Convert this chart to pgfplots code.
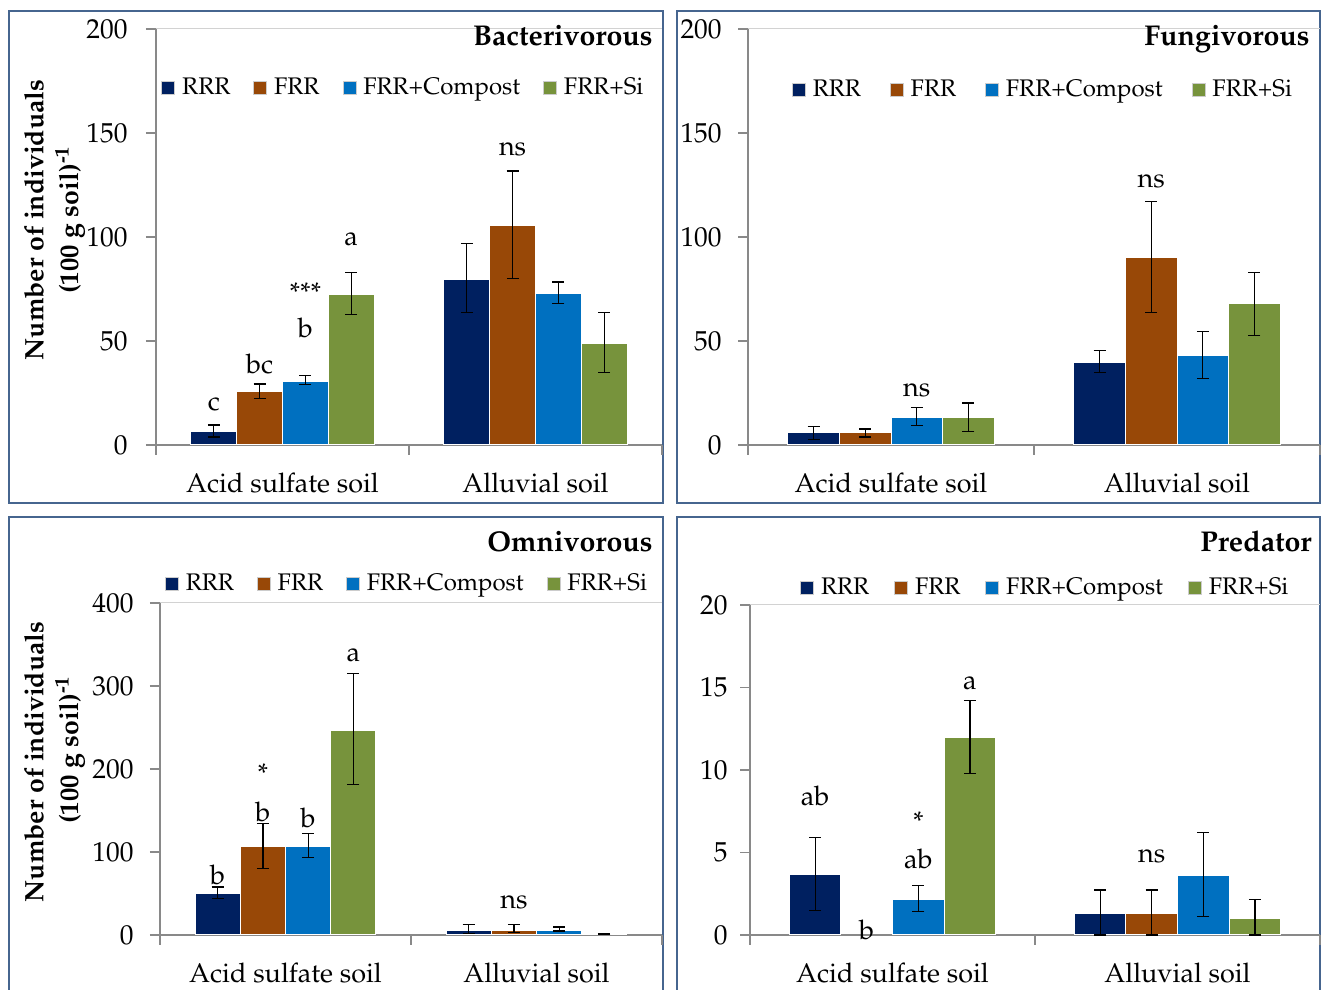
\documentclass[border=0pt]{standalone}
\usepackage[T1]{fontenc}
\usepackage{mathpazo}
\usepackage{pgfplots}
\pgfplotsset{compat=1.18}
\definecolor{cRRR}{HTML}{002060}
\definecolor{cFRR}{HTML}{984807}
\definecolor{cCOM}{HTML}{0070C0}
\definecolor{cSI}{HTML}{77933C}
\definecolor{frame}{HTML}{46658F}
\definecolor{axgray}{HTML}{898989}
\newcommand{\fsz}[1]{\fontsize{#1}{#1}\selectfont}
\tikzset{lbl/.style={font=\fsz{13.5}, inner sep=0pt, anchor=center}}
\pgfplotsset{
 panel/.style={
   scale only axis, clip=false,
   axis x line=bottom, axis y line=left,
   axis line style={-, draw=axgray, line width=0.7pt},
   xmin=-0.5, xmax=1.5, ymin=0,
   xtick={0,1}, xticklabels={Acid sulfate soil, Alluvial soil},
   major x tick style={draw=none},
   minor xtick={-0.5,0.5,1.5},
   minor tick length=5pt, major tick length=5pt,
   tick align=outside,
   tick style={draw=axgray, line width=0.7pt},
   xticklabel style={font=\fsz{13.5}, anchor=base, inner sep=0pt, yshift=-19pt},
   yticklabel style={font=\fsz{13.7}, anchor=east, inner sep=0pt},
   ybar,
   every axis plot/.append style={draw=white, line width=0.5pt,
     error bars/.cd, y dir=both, y explicit,
     error bar style={draw=black, line width=0.6pt},
     error mark options={rotate=90, mark size=3pt, draw=black, line width=0.6pt},
     /pgfplots/.cd},
   legend style={draw=none, fill=none, font=\fsz{12}, legend columns=4,
     anchor=center, nodes={inner sep=1.5pt},
     /tikz/every odd column/.append style={column sep=2pt}},
   legend image code/.code={\draw[##1, draw=gray!40, line width=0.4pt] (0pt,-3.3pt) rectangle (6.5pt,3.3pt);},
 },
}
\begin{document}
\begin{tikzpicture}
\useasboundingbox (0,0) rectangle (661.5pt,495pt);
% frames
\draw[frame, line width=1pt] (4.5pt,243.5pt) rectangle (331.5pt,489.5pt);
\draw[frame, line width=1pt] (338.5pt,243.5pt) rectangle (660pt,489.5pt);
\draw[frame, line width=1pt] (4.5pt,-3pt) rectangle (331.5pt,236.5pt);
\draw[frame, line width=1pt] (338.5pt,-3pt) rectangle (660pt,236.5pt);

% ---------------- Panel 1: Bacterivorous
\begin{axis}[panel, at={(78pt,272.5pt)}, anchor=south west,
  width=253pt, height=208pt, ymax=200, ytick={0,50,100,150,200},
  bar width=22.9pt, yticklabel style={xshift=-9pt},
  legend style={at={(0.49,0.858)}, /tikz/every even column/.append style={column sep=10pt}}]
\addplot[fill=cRRR, bar shift=-34.35pt] table[x=x,y=y,y error plus=ep,y error minus=em]{
x y ep em
0 6.4 3.2 2.6
1 79.5 17.5 15.9
};
\addplot[fill=cFRR, bar shift=-11.45pt] table[x=x,y=y,y error plus=ep,y error minus=em]{
x y ep em
0 25.6 3.7 3.2
1 105.5 26.2 25.6
};
\addplot[fill=cCOM, bar shift=11.45pt] table[x=x,y=y,y error plus=ep,y error minus=em]{
x y ep em
0 30.6 2.7 1.6
1 72.8 5.6 4.6
};
\addplot[fill=cSI, bar shift=34.35pt] table[x=x,y=y,y error plus=ep,y error minus=em]{
x y ep em
0 72.3 10.6 9.7
1 48.8 14.9 13.9
};
\legend{RRR,FRR,FRR+Compost,FRR+Si}
\draw[gray!35, line width=0.5pt] (rel axis cs:0,1) -- (rel axis cs:1,1);
\node[lbl] at (axis cs:0,19.7) [xshift=-34.35pt] {c};
\node[lbl] at (axis cs:0,38.9) [xshift=-11.45pt] {bc};
\node[lbl] at (axis cs:0,56.5) [xshift=11.45pt] {b};
\node[lbl] at (axis cs:0,73.6) [xshift=11.45pt] {***};
\node[lbl] at (axis cs:0,98.9) [xshift=34.35pt] {a};
\node[lbl] at (axis cs:1,142) [xshift=-11.45pt] {ns};
\end{axis}

% ---------------- Panel 2: Fungivorous
\begin{axis}[panel, at={(374pt,272.5pt)}, anchor=south west,
  width=286pt, height=208pt, ymax=200, ytick={0,50,100,150,200},
  bar width=25.8pt, yticklabel style={xshift=-8pt},
  legend style={at={(0.5166,0.853)}, /tikz/every even column/.append style={column sep=13pt}}]
\addplot[fill=cRRR, bar shift=-38.7pt] table[x=x,y=y,y error plus=ep,y error minus=em]{
x y ep em
0 5.9 3.1 3.2
1 39.6 6.0 4.9
};
\addplot[fill=cFRR, bar shift=-12.9pt] table[x=x,y=y,y error plus=ep,y error minus=em]{
x y ep em
0 5.9 1.8 2.1
1 90.3 26.9 26.7
};
\addplot[fill=cCOM, bar shift=12.9pt] table[x=x,y=y,y error plus=ep,y error minus=em]{
x y ep em
0 13.1 4.8 3.7
1 43.1 11.5 11.1
};
\addplot[fill=cSI, bar shift=38.7pt] table[x=x,y=y,y error plus=ep,y error minus=em]{
x y ep em
0 13.1 7.1 6.5
1 67.9 14.9 15.1
};
\legend{RRR,FRR,FRR+Compost,FRR+Si}
\draw[gray!35, line width=0.5pt] (rel axis cs:0,1) -- (rel axis cs:1,1);
\node[lbl] at (axis cs:0,26.1) [xshift=12.9pt] {ns};
\node[lbl] at (axis cs:1,127) [xshift=-12.9pt] {ns};
\end{axis}

% ---------------- Panel 3: Omnivorous
\begin{axis}[panel, at={(80pt,27.5pt)}, anchor=south west,
  width=251pt, height=166pt, ymax=400, ytick={0,100,200,300,400},
  bar width=22.6pt, yticklabel style={xshift=-8pt},
  legend style={at={(0.493,1.057)}, /tikz/every even column/.append style={column sep=10pt}}]
\addplot[fill=cRRR, bar shift=-33.9pt] table[x=x,y=y,y error plus=ep,y error minus=em]{
x y ep em
0 50.2 7.6 6.5
1 6 6.8 4.4
};
\addplot[fill=cFRR, bar shift=-11.3pt] table[x=x,y=y,y error plus=ep,y error minus=em]{
x y ep em
0 106.3 28.1 26.1
1 6 6.8 3.2
};
\addplot[fill=cCOM, bar shift=11.3pt] table[x=x,y=y,y error plus=ep,y error minus=em]{
x y ep em
0 106.3 15.7 13.2
1 6 3.6 1.2
};
\addplot[fill=cSI, bar shift=33.9pt] table[x=x,y=y,y error plus=ep,y error minus=em]{
x y ep em
0 246.7 68.6 65.7
1 1.2 0.6 0.6
};
\legend{RRR,FRR,FRR+Compost,FRR+Si}
\draw[gray!35, line width=0.5pt] (rel axis cs:0,1) -- (rel axis cs:1,1);
\node[lbl] at (axis cs:0,73) [xshift=-33.9pt] {b};
\node[lbl] at (axis cs:0,149) [xshift=-11.3pt] {b};
\node[lbl] at (axis cs:0,194.5) [xshift=-11.3pt] {*};
\node[lbl] at (axis cs:0,141) [xshift=11.3pt] {b};
\node[lbl] at (axis cs:0,337) [xshift=33.9pt] {a};
\node[lbl] at (axis cs:1,38.9) [xshift=-11.3pt] {ns};
\end{axis}

% ---------------- Panel 4: Predator
\begin{axis}[panel, at={(375pt,27.5pt)}, anchor=south west,
  width=285pt, height=165pt, ymax=20, ytick={0,5,10,15,20},
  bar width=25.8pt, yticklabel style={xshift=-6pt},
  legend style={at={(0.519,1.052)}, /tikz/every even column/.append style={column sep=11pt}}]
\addplot[fill=cRRR, bar shift=-38.7pt] table[x=x,y=y,y error plus=ep,y error minus=em]{
x y ep em
0 3.66 2.24 2.16
1 1.31 1.42 1.31
};
\addplot[fill=cFRR, bar shift=-12.9pt] table[x=x,y=y,y error plus=ep,y error minus=em]{
x y ep em
1 1.31 1.42 1.31
};
\addplot[fill=cCOM, bar shift=12.9pt] table[x=x,y=y,y error plus=ep,y error minus=em]{
x y ep em
0 2.18 0.82 0.77
1 3.6 2.6 2.47
};
\addplot[fill=cSI, bar shift=38.7pt] table[x=x,y=y,y error plus=ep,y error minus=em]{
x y ep em
0 11.98 2.22 2.18
1 1.03 1.13 1.03
};
\legend{RRR,FRR,FRR+Compost,FRR+Si}
\draw[gray!35, line width=0.5pt] (rel axis cs:0,1) -- (rel axis cs:1,1);
\node[lbl] at (axis cs:0,8.42) [xshift=-38.7pt] {ab};
\node[lbl] at (axis cs:0,0.3) [xshift=-12.9pt] {b};
\node[lbl] at (axis cs:0,6.87) [xshift=12.9pt] {*};
\node[lbl] at (axis cs:0,4.6) [xshift=12.9pt] {ab};
\node[lbl] at (axis cs:0,15.3) [xshift=38.7pt] {a};
\node[lbl] at (axis cs:1,4.8) [xshift=-12.9pt] {ns};
\end{axis}

% titles
\node[anchor=base east, inner sep=0pt, font=\fsz{14.3}\bfseries] at (326.5pt,472pt) {Bacterivorous};
\node[anchor=base east, inner sep=0pt, font=\fsz{14.3}\bfseries] at (655pt,472pt) {Fungivorous};
\node[anchor=base east, inner sep=0pt, font=\fsz{14.3}\bfseries] at (326.5pt,219pt) {Omnivorous};
\node[anchor=base east, inner sep=0pt, font=\fsz{14.3}\bfseries] at (656pt,219pt) {Predator};
% y labels
\node[rotate=90, inner sep=0pt, font=\fsz{13.3}\bfseries] at (17pt,385pt) {Number of individuals};
\node[rotate=90, inner sep=0pt, font=\fsz{13.3}\bfseries] at (35pt,385pt) {(100 g soil)\textsuperscript{-1}};
\node[rotate=90, inner sep=0pt, font=\fsz{13.3}\bfseries] at (17pt,114pt) {Number of individuals};
\node[rotate=90, inner sep=0pt, font=\fsz{13.3}\bfseries] at (35pt,120pt) {(100 g soil)\textsuperscript{-1}};
\end{tikzpicture}
\end{document}
